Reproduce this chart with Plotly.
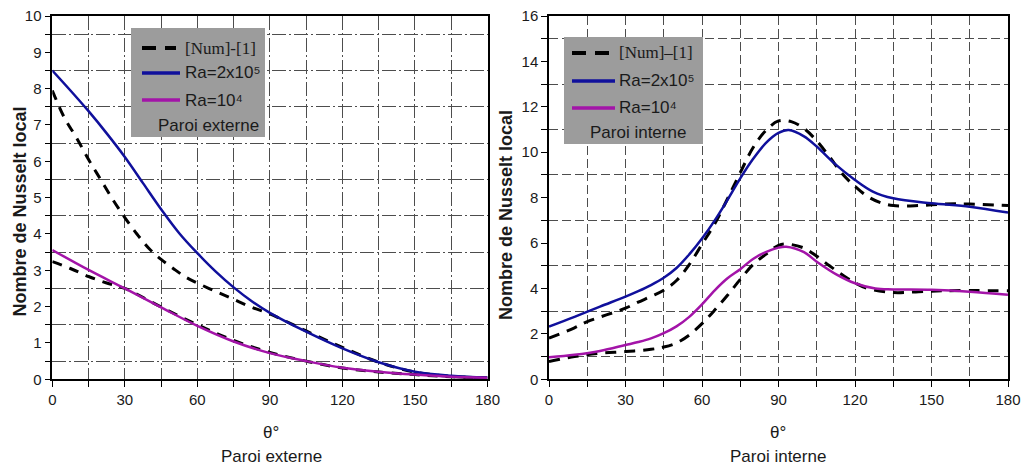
import plotly.graph_objects as go

# ---------------- data ----------------
# Left panel : Paroi externe
ext_theta_hi = [0, 7.5, 15, 22.5, 30, 37.5, 45, 52.5, 60, 67.5, 75, 82.5, 90, 105, 120, 135,
                150, 165, 180]
ext_ra2e5 = [8.5, 7.95, 7.38, 6.77, 6.12, 5.4, 4.68, 4.02, 3.47, 2.97, 2.53, 2.15, 1.83, 1.31,
             0.85, 0.47, 0.21, 0.1, 0.05]
ext_theta_lo = [0, 15, 30, 45, 60, 75, 90, 105, 120, 135, 150, 165, 180]
ext_ra1e4 = [3.56, 3.01, 2.5, 1.98, 1.47, 1.04, 0.72, 0.5, 0.32, 0.21, 0.13, 0.07, 0.04]

ext_num_hi_theta = [0, 5, 10, 15, 20, 25, 30, 35, 40, 45, 50, 55, 60, 67.5, 75, 82.5, 90,
                    105, 120, 135, 150, 165, 180]
ext_num_hi = [7.95, 7.2, 6.65, 6.05, 5.5, 4.95, 4.45, 4.0, 3.6, 3.3, 3.05, 2.82, 2.65, 2.42,
              2.2, 1.98, 1.8, 1.33, 0.88, 0.47, 0.2, 0.08, 0.04]
ext_num_lo_theta = [0, 7.5, 15, 22.5, 30, 45, 60, 75, 90, 105, 120, 135, 150, 165, 180]
ext_num_lo = [3.24, 3.05, 2.83, 2.65, 2.5, 1.99, 1.5, 1.07, 0.74, 0.5, 0.31, 0.2, 0.13, 0.07, 0.04]

# Right panel : Paroi interne
int_theta_hi = [0, 10, 20, 30, 35, 40, 45, 50, 55, 60, 65, 70, 75, 80, 85, 90, 94, 100, 105,
                112, 120, 127, 135, 150, 165, 180]
int_ra2e5 = [2.32, 2.75, 3.2, 3.64, 3.88, 4.15, 4.47, 4.9, 5.5, 6.2, 7.0, 7.9, 8.85, 9.7,
             10.4, 10.85, 10.98, 10.7, 10.25, 9.5, 8.78, 8.27, 7.97, 7.75, 7.6, 7.34]
int_theta_lo = [0, 10, 20, 30, 35, 40, 45, 50, 55, 60, 65, 70, 75, 80, 85, 90, 93, 100, 105,
                113, 120, 128, 135, 150, 165, 180]
int_ra1e4 = [0.97, 1.08, 1.25, 1.51, 1.64, 1.8, 2.03, 2.33, 2.75, 3.3, 3.92, 4.45, 4.85, 5.3,
             5.6, 5.8, 5.84, 5.6, 5.18, 4.6, 4.23, 4.0, 3.96, 3.94, 3.86, 3.72]

int_num_hi_theta = [0, 10, 15, 20, 25, 30, 35, 40, 45, 50, 55, 60, 65, 70, 75, 80, 85, 90,
                    95, 100, 105, 110, 115, 120, 125, 130, 135, 145, 155, 165, 180]
int_num_hi = [1.81, 2.27, 2.54, 2.74, 2.93, 3.13, 3.4, 3.65, 3.92, 4.35, 5.05, 5.95, 6.85,
              7.95, 9.1, 10.2, 10.95, 11.38, 11.35, 11.05, 10.5, 9.8, 9.05, 8.5, 8.05, 7.78,
              7.65, 7.65, 7.72, 7.72, 7.65]
int_num_lo_theta = [0, 10, 20, 30, 40, 45, 50, 55, 60, 65, 70, 75, 80, 85, 90, 93, 100, 105,
                    110, 115, 120, 125, 135, 145, 155, 180]
int_num_lo = [0.78, 1.0, 1.15, 1.22, 1.32, 1.42, 1.6, 1.95, 2.45, 3.05, 3.7, 4.4, 5.05, 5.5,
              5.9, 5.96, 5.78, 5.42, 5.0, 4.6, 4.25, 4.0, 3.82, 3.86, 3.9, 3.9]

x_ticks = [0, 30, 60, 90, 120, 150, 180]

# ---------------- style ----------------
W, H = 1025, 467
BLUE = "#10109c"
MAG = "#a314a8"
SANS = "Liberation Sans, Arial, sans-serif"
SERIF = "Liberation Serif, Times New Roman, serif"
TXT = "#1a1a1a"


def px(x):
    return x / W


def py(y):
    return 1 - y / H


fig = go.Figure()


def add(x, y, color, dash, width, xa, ya):
    fig.add_trace(go.Scatter(
        x=x, y=y, mode="lines", xaxis=xa, yaxis=ya, showlegend=False,
        line=dict(color=color, width=width, dash=dash, shape="spline", smoothing=1.0),
        hoverinfo="skip"))


# left
add(ext_num_hi_theta, ext_num_hi, "black", "10px,8px", 3, "x", "y")
add(ext_num_lo_theta, ext_num_lo, "black", "10px,8px", 3, "x", "y")
add(ext_theta_hi, ext_ra2e5, BLUE, "solid", 2.5, "x", "y")
add(ext_theta_lo, ext_ra1e4, MAG, "solid", 2.5, "x", "y")
# right
add(int_num_hi_theta, int_num_hi, "black", "11px,8px", 3, "x2", "y2")
add(int_num_lo_theta, int_num_lo, "black", "11px,8px", 3, "x2", "y2")
add(int_theta_hi, int_ra2e5, BLUE, "solid", 2.5, "x2", "y2")
add(int_theta_lo, int_ra1e4, MAG, "solid", 2.5, "x2", "y2")

ydom = [py(379.3), py(16)]


def xaxis(domain, anchor, griddash):
    return dict(domain=domain, anchor=anchor, range=[0, 180], tickvals=x_ticks,
                automargin=False,
                ticks="outside", ticklen=6, tickwidth=1.2, tickcolor="black",
                showline=True, linecolor="black", linewidth=1.5, mirror=True,
                showgrid=False, zeroline=False,
                tickfont=dict(family=SANS, size=15, color=TXT),
                minor=dict(dtick=15, tick0=0, ticks="outside", ticklen=6, tickwidth=1.2,
                           tickcolor="black", showgrid=True, gridcolor="#4d4d4d",
                           gridwidth=1.2, griddash=griddash))


def yaxis(anchor, rng, dtick, mdtick, griddash):
    return dict(domain=ydom, anchor=anchor, range=rng, dtick=dtick, tick0=0,
                automargin=False,
                ticks="outside", ticklen=6, tickwidth=1.2, tickcolor="black",
                showline=True, linecolor="black", linewidth=1.5, mirror=True,
                showgrid=False, zeroline=False,
                tickfont=dict(family=SANS, size=15, color=TXT),
                minor=dict(dtick=mdtick, tick0=0, ticks="outside", ticklen=6, tickwidth=1.2,
                           tickcolor="black", showgrid=True, gridcolor="#4d4d4d",
                           gridwidth=1.2, griddash=griddash))


LEFT_DASH = "14px,3px,2px,3px"
RIGHT_DASH = "9px,4px"

fig.update_layout(
    width=W, height=H, margin=dict(l=0, r=0, t=0, b=0, autoexpand=False),
    paper_bgcolor="white", plot_bgcolor="white", showlegend=False,
    xaxis=xaxis([px(52.3), px(487.5)], "y", LEFT_DASH),
    yaxis=yaxis("x", [0, 10], 1, 0.5, LEFT_DASH),
    xaxis2=xaxis([px(549), px(1008)], "y2", RIGHT_DASH),
    yaxis2=yaxis("x2", [0, 16], 2, 1, RIGHT_DASH),
)

shapes = []
annots = []


def text(x, y, s, fam=SANS, size=17, anchor="left", angle=0, weight="normal"):
    annots.append(dict(xref="paper", yref="paper", x=px(x), y=py(y), text=s,
                       showarrow=False, xanchor=anchor, yanchor="middle", textangle=angle,
                       font=dict(family=fam, size=size, color=TXT, weight=weight)))


def legend_box(x0, y0, x1, y1, sx0, sx1, ys, tx, labels, note_x, note_y, note):
    shapes.append(dict(type="rect", xref="paper", yref="paper", x0=px(x0), x1=px(x1),
                       y0=py(y1), y1=py(y0), fillcolor="#9c9c9c", line=dict(width=0),
                       layer="above"))
    styles = [("black", "14px,9px", 4, sx1 - 4), (BLUE, "solid", 3.5, sx1), (MAG, "solid", 3.5, sx1)]
    for (col, dash, w, end), yy, (lab, fam) in zip(styles, ys, labels):
        shapes.append(dict(type="line", xref="paper", yref="paper", x0=px(sx0), x1=px(end),
                           y0=py(yy), y1=py(yy), line=dict(color=col, width=w, dash=dash),
                           layer="above"))
        text(tx, yy, lab, fam=fam)
    text(note_x, note_y, note)


legend_box(131, 28, 265, 137, 142, 180, [48, 73, 100], 183,
           [("[Num]-[1]", SERIF), ("Ra=2x10\u2075", SANS), ("Ra=10\u2074", SANS)],
           156, 125, "Paroi externe")
legend_box(564, 37, 703, 144, 572, 615, [53, 81, 108], 617,
           [("[Num]\u2013[1]", SERIF), ("Ra=2x10\u2075", SANS), ("Ra=10\u2074", SANS)],
           588, 132.5, "Paroi interne")

# axis titles
for xc, yc in [(19, 211.5), (506, 215)]:
    text(xc, yc, "Nombre de Nusselt local", size=18, anchor="center", angle=-90, weight="bold")
for xc, sub in [(271, "Paroi externe"), (778, "Paroi interne")]:
    text(xc, 432, "\u03b8\u00b0", anchor="center")
    text(xc, 456, sub, anchor="center")

fig.update_layout(shapes=shapes, annotations=annots)
fig.write_html(
    "out.html",
    config={"displayModeBar": False},
    post_script="document.body.style.margin='0';document.body.style.overflow='hidden';",
)
